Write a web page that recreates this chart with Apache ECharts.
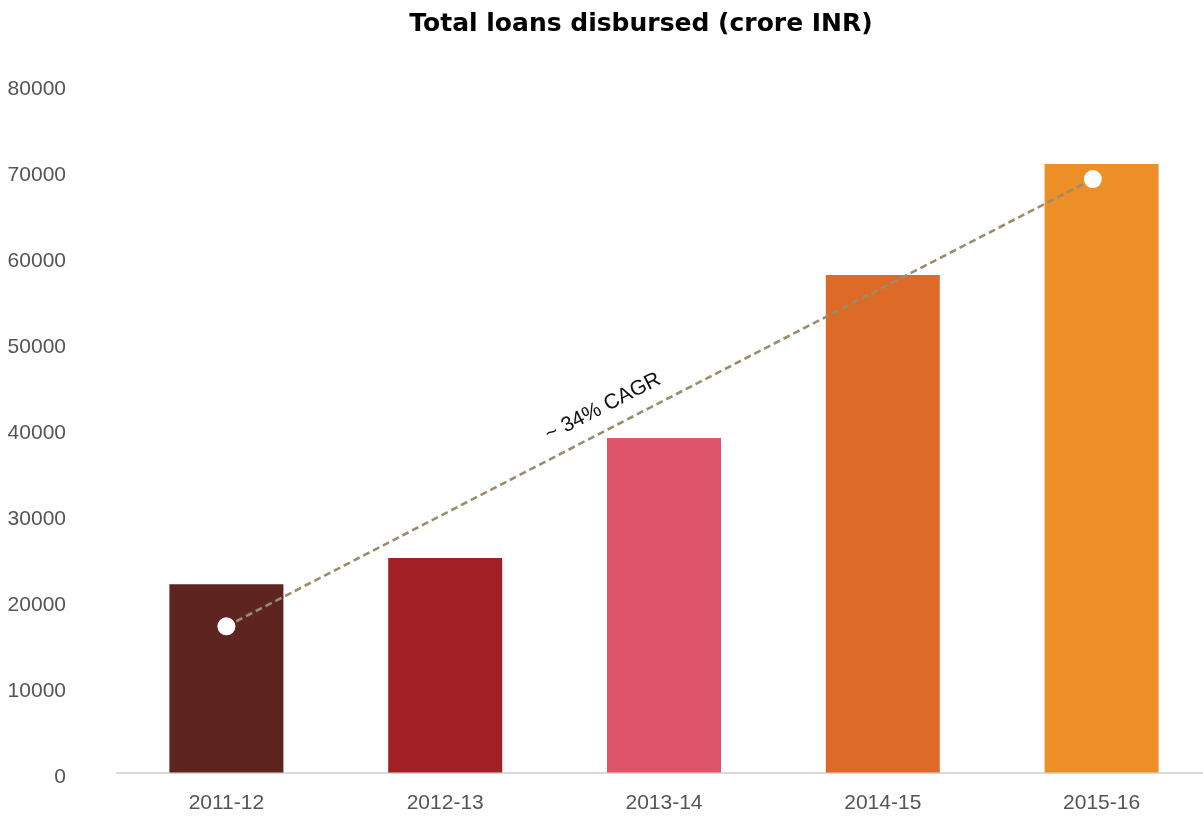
<!DOCTYPE html>
<html>
<head>
<meta charset="utf-8">
<title>Total loans disbursed (crore INR)</title>
<script src="https://cdn.jsdelivr.net/npm/echarts@6/dist/echarts.min.js"></script>
<style>
  html, body { margin: 0; padding: 0; background: #ffffff; overflow: hidden; }
  /* the plot runs slightly past the right edge of the window */
  #chart { width: 1230px; height: 816px; }
</style>
</head>
<body>
<div id="chart"></div>
<script>
// Fiscal years and loans disbursed, crore INR
const years = ['2011-12', '2012-13', '2013-14', '2014-15', '2015-16'];
const loans = [21900, 24950, 38900, 57850, 70750];
const barColors = ['#5e2420', '#a12025', '#dd546b', '#dd6b27', '#eb8f26'];

// Growth trend endpoints (category position, value)
const trendPos = [0, 3.96];
const trendValues = [17000, 69000];
const trendLabel = '~ 34% CAGR';

// Value axis ticks
const yTicks = [0, 10000, 20000, 30000, 40000, 50000, 60000, 70000, 80000];

const font = '"Liberation Sans", Arial, Helvetica, sans-serif';
const titleFont = '"DejaVu Sans", "Liberation Sans", Arial, sans-serif';
const chart = echarts.init(document.getElementById('chart'));

const barData = loans.map((v, i) => ({ value: v, itemStyle: { color: barColors[i] } }));
const trendData = trendPos.map((p, i) => [p, trendValues[i]]);

chart.setOption({
  animation: false,
  backgroundColor: '#ffffff',
  title: {
    text: 'Total loans disbursed (crore INR)',
    left: 636,
    textAlign: 'center',
    top: 7,
    textStyle: { fontFamily: titleFont, fontSize: 25, fontWeight: 'bold', color: '#000000' }
  },
  grid: { left: 117, top: 84.5, width: 1094, height: 688, containLabel: false },
  xAxis: [
    {
      type: 'category',
      data: years,
      axisLine: { show: true, lineStyle: { color: '#d9d9d9', width: 2 } },
      axisTick: { show: false },
      axisLabel: { margin: 20, fontFamily: font, fontSize: 21, color: '#555555' },
      splitLine: { show: false }
    },
    {
      type: 'value',
      min: -0.5,
      max: 4.5,
      show: false
    }
  ],
  yAxis: {
    type: 'value',
    min: yTicks[0],
    max: yTicks[yTicks.length - 1],
    interval: yTicks[1] - yTicks[0],
    axisLine: { show: false },
    axisTick: { show: false },
    splitLine: { show: false },
    axisLabel: {
      margin: 51,
      formatter: (v) => String(v),
      verticalAlign: 'top',
      lineHeight: 9,
      fontFamily: font,
      fontSize: 21,
      color: '#555555'
    }
  },
  series: [
    {
      type: 'bar',
      data: barData,
      barWidth: 114,
      xAxisIndex: 0
    },
    {
      type: 'line',
      xAxisIndex: 1,
      data: trendData,
      z: 5,
      lineStyle: { color: '#9b8c6c', width: 2.6, type: [7, 4] },
      symbol: 'circle',
      symbolSize: 18,
      itemStyle: { color: '#ffffff', borderWidth: 0 }
    }
  ],
  graphic: [
    {
      type: 'text',
      x: 603,
      y: 407,
      rotation: 0.475,
      z: 10,
      style: {
        text: trendLabel,
        font: '21px ' + font,
        fill: '#111111',
        align: 'center',
        verticalAlign: 'middle'
      }
    }
  ]
});
</script>
</body>
</html>
